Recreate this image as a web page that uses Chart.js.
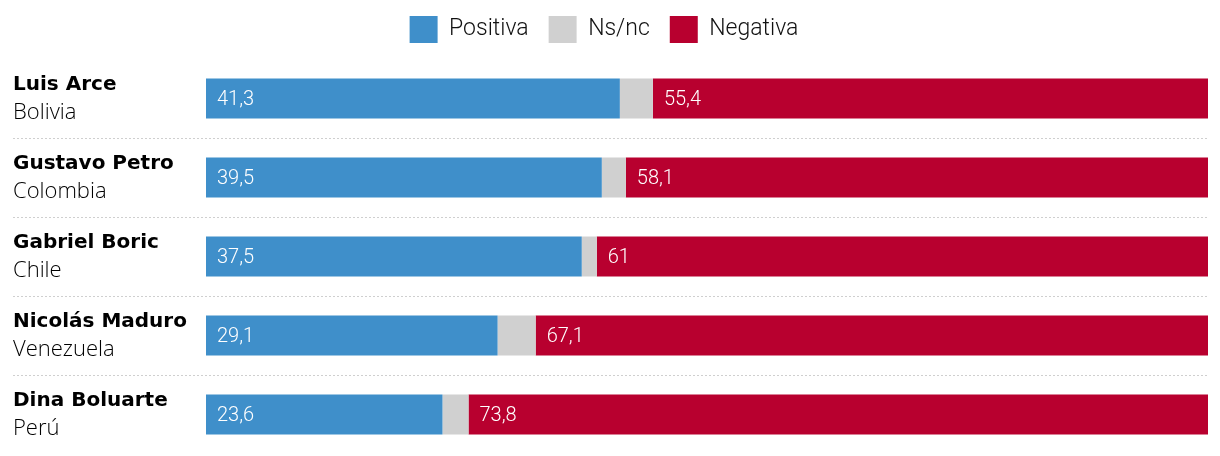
<!DOCTYPE html>
<html>
<head>
<meta charset="utf-8">
<script src="https://cdn.jsdelivr.net/npm/chart.js@4"></script>
<style>
  html, body { margin: 0; padding: 0; background: #fff; }
  #chart { display: block; }
</style>
</head>
<body>
<canvas id="chart" width="1220" height="456"></canvas>
<script>
var leaders = ['Luis Arce', 'Gustavo Petro', 'Gabriel Boric', 'Nicolás Maduro', 'Dina Boluarte'];
var countries = ['Bolivia', 'Colombia', 'Chile', 'Venezuela', 'Perú'];
var positiva = [41.3, 39.5, 37.5, 29.1, 23.6];
var nsnc = [3.3, 2.4, 1.5, 3.8, 2.6];
var negativa = [55.4, 58.1, 61, 67.1, 73.8];

function fmt(v) {
    return String(v).replace('.', ',');
}

// names + countries on the left, dotted separators, values inside the bars
var decorations = {
    id: 'decorations',
    afterDatasetsDraw: function (chart) {
        var ctx = chart.ctx;
        var y = chart.scales.y;
        var area = chart.chartArea;
        ctx.save();

        // separators
        ctx.strokeStyle = '#cfcfcf';
        ctx.lineWidth = 1;
        ctx.setLineDash([2, 2]);
        for (var i = 0; i < leaders.length - 1; i++) {
            var sy = Math.round((y.getPixelForValue(i) + y.getPixelForValue(i + 1)) / 2) + 0.5;
            ctx.beginPath();
            ctx.moveTo(13, sy);
            ctx.lineTo(area.right, sy);
            ctx.stroke();
        }
        ctx.setLineDash([]);

        // row labels
        ctx.fillStyle = '#000';
        ctx.textAlign = 'left';
        ctx.textBaseline = 'alphabetic';
        leaders.forEach(function (name, i) {
            var cy = y.getPixelForValue(i);
            ctx.font = 'bold 20px "DejaVu Sans"';
            ctx.fillText(name, 13, cy - 9);
            ctx.font = '300 22px "Open Sans"';
            ctx.fillText(countries[i], 13, cy + 20);
        });

        // values in bars
        ctx.fillStyle = '#fff';
        ctx.font = '300 20px Roboto';
        ctx.textBaseline = 'middle';
        [0, 2].forEach(function (di) {
            var meta = chart.getDatasetMeta(di);
            meta.data.forEach(function (bar, i) {
                ctx.fillText(fmt(chart.data.datasets[di].data[i]), bar.base + 11, bar.y + 1);
            });
        });
        ctx.restore();
    }
};

var ctx = document.getElementById('chart').getContext('2d');
new Chart(ctx, {
    type: 'bar',
    data: {
        labels: leaders,
        datasets: [
            { label: 'Positiva', data: positiva, backgroundColor: '#3f8fca' },
            { label: 'Ns/nc', data: nsnc, backgroundColor: '#d0d0d0' },
            { label: 'Negativa', data: negativa, backgroundColor: '#b8002f' }
        ]
    },
    options: {
        indexAxis: 'y',
        responsive: false,
        animation: false,
        devicePixelRatio: 1,
        datasets: {
            bar: { categoryPercentage: 1, barPercentage: 0.506, borderWidth: 0 }
        },
        layout: { padding: { left: 0, right: 12, top: -4, bottom: 2 } },
        scales: {
            x: { stacked: true, min: 0, max: 100, display: false },
            y: {
                stacked: true,
                grid: { display: false },
                border: { display: false },
                ticks: { display: false },
                afterFit: function (scale) { scale.width = 206; }
            }
        },
        plugins: {
            legend: {
                position: 'top',
                align: 'center',
                labels: {
                    boxWidth: 28,
                    boxHeight: 27,
                    padding: 20,
                    color: '#111',
                    font: { family: 'Roboto', size: 23, weight: '300' }
                }
            },
            tooltip: { enabled: false }
        }
    },
    plugins: [decorations, {
        id: 'legendGap',
        beforeInit: function (chart) {
            var fit = chart.legend.fit;
            chart.legend.fit = function () {
                fit.bind(chart.legend)();
                this.height += 6;
            };
        }
    }]
});
</script>
</body>
</html>
